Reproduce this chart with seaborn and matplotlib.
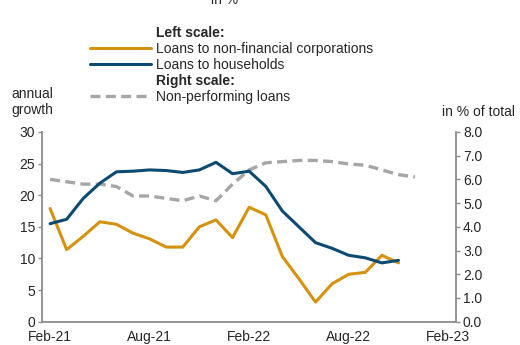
import numpy as np
import pandas as pd
import seaborn as sns
import matplotlib.pyplot as plt
from matplotlib.lines import Line2D

months = ["Feb-21", "Mar-21", "Apr-21", "May-21", "Jun-21", "Jul-21", "Aug-21",
          "Sep-21", "Oct-21", "Nov-21", "Dec-21", "Jan-22", "Feb-22", "Mar-22",
          "Apr-22", "May-22", "Jun-22", "Jul-22", "Aug-22", "Sep-22", "Oct-22",
          "Nov-22", "Dec-22", "Jan-23", "Feb-23"]
tick_labels = ["Feb-21", "Aug-21", "Feb-22", "Aug-22", "Feb-23"]

nfc = [17.9, 11.4, 13.5, 15.8, 15.4, 14.0, 13.1, 11.8, 11.8, 15.0, 16.1, 13.3,
       18.1, 16.9, 10.3, 6.8, 3.1, 6.0, 7.5, 7.8, 10.5, 9.3]
households = [15.5, 16.2, 19.5, 21.9, 23.7, 23.8, 24.0, 23.9, 23.6, 24.0, 25.2,
              23.4, 23.8, 21.4, 17.5, 15.0, 12.5, 11.6, 10.5, 10.1, 9.3, 9.7]
npl = [6.0, 5.9, 5.8, 5.8, 5.7, 5.3, 5.3, 5.2, 5.1, 5.3, 5.1, 5.8, 6.4, 6.7,
       6.75, 6.8, 6.8, 6.75, 6.65, 6.6, 6.4, 6.2, 6.1]

ORANGE = "#D4920F"
BLUE = "#0C4A72"
GREY = "#A6A6A6"
AXIS = "#8C8C8C"

sns.set_style("white")
plt.rcParams["font.family"] = ["Liberation Sans", "DejaVu Sans"]
plt.rcParams["font.size"] = 10

df = pd.DataFrame({"pos": np.arange(len(nfc)), "nfc": nfc, "hh": households})
df_npl = pd.DataFrame({"pos": np.arange(len(npl)), "npl": npl})

fig = plt.figure(figsize=(5.2, 3.45), dpi=100)
ax = fig.add_axes([0.081, 0.0675, 0.796, 0.55])
ax2 = ax.twinx()

sns.lineplot(data=df_npl, x="pos", y="npl", ax=ax2, color=GREY, lw=2.4,
             dashes=False, linestyle=(0, (3, 1.6)))
sns.lineplot(data=df, x="pos", y="nfc", ax=ax, color=ORANGE, lw=2.2)
sns.lineplot(data=df, x="pos", y="hh", ax=ax, color=BLUE, lw=2.2)

ax.set_zorder(ax2.get_zorder() + 1)
ax.patch.set_visible(False)

ax.set_xlim(-0.48, 24.47)
ax.set_ylim(0, 30)
ax.set_yticks(range(0, 31, 5))
ax2.set_ylim(0, 8)
ax2.set_yticks(np.arange(0, 8.1, 1.0))
ax2.set_yticklabels([f"{v:.1f}" for v in np.arange(0, 8.1, 1.0)])
ax.set_xticks([months.index(t) for t in tick_labels])
ax.set_xticklabels(tick_labels)
ax.set_xlabel("")
ax.set_ylabel("")
ax2.set_ylabel("")

for a in (ax, ax2):
    for side in a.spines:
        a.spines[side].set_visible(False)
ax.spines["left"].set_visible(True)
ax.spines["bottom"].set_visible(True)
ax2.spines["right"].set_visible(True)
for sp in (ax.spines["left"], ax.spines["bottom"], ax2.spines["right"]):
    sp.set_color(AXIS)
    sp.set_linewidth(1.3)

ax.tick_params(axis="y", length=3, width=1, color=AXIS, pad=2, labelsize=10)
ax.tick_params(axis="x", length=0, pad=6, labelsize=10)
ax2.tick_params(axis="y", length=3, width=1, color=AXIS, pad=2, labelsize=10)

fig.text(0.062, 0.705, "annual\ngrowth", ha="center", va="center",
         fontsize=10, linespacing=1.15)
fig.text(0.99, 0.675, "in % of total", ha="right", va="center", fontsize=10)
fig.text(0.432, 1.0, "in %", ha="center", va="center", fontsize=10)

handles = [Line2D([], [], color="none"),
           Line2D([], [], color=ORANGE, lw=2.2),
           Line2D([], [], color=BLUE, lw=2.2),
           Line2D([], [], color="none"),
           Line2D([], [], color=GREY, lw=2.4, linestyle=(0, (3, 1.6)))]
labels = ["Left scale:", "Loans to non-financial corporations",
          "Loans to households", "Right scale:", "Non-performing loans"]
leg = fig.legend(handles, labels, loc="upper left", bbox_to_anchor=(0.173, 0.925),
                 frameon=False, fontsize=10, handlelength=4.4, handletextpad=0.35,
                 labelspacing=0.15, borderaxespad=0, borderpad=0)
for t in leg.get_texts()[::3]:
    t.set_fontweight("bold")

fig.savefig("out.png", dpi=100)
